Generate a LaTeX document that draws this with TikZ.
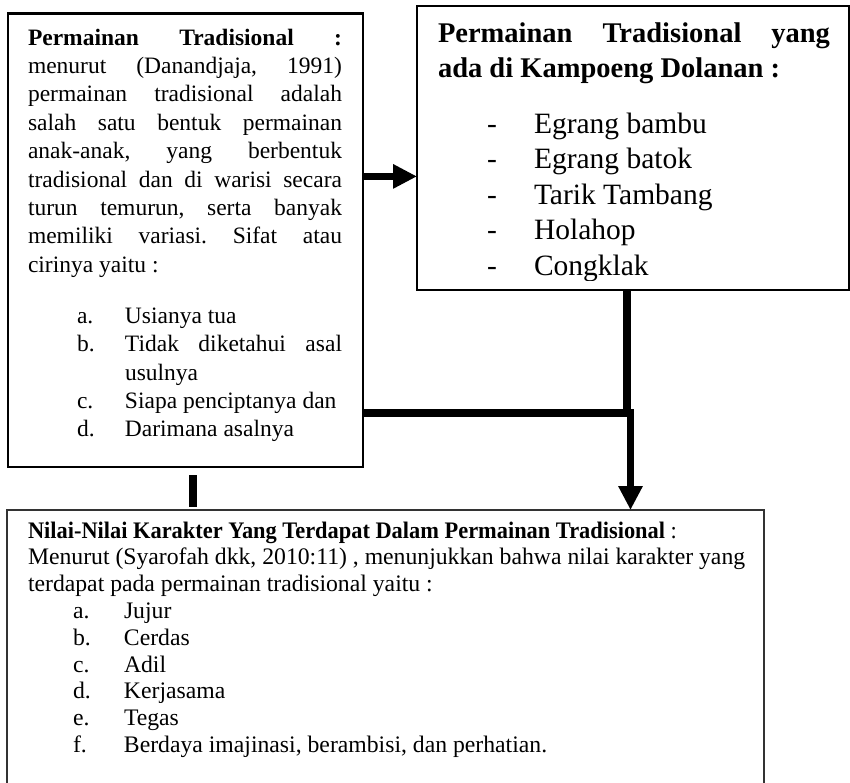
\documentclass[tikz,border=0pt]{standalone}
\usepackage{fontspec}
\usepackage{graphicx}
\setmainfont{Liberation Serif}
\usetikzlibrary{arrows.meta,calc}
\frenchspacing
\newsavebox\jbox
\newcommand\jline[1]{\sbox\jbox{#1}\ifdim\wd\jbox>\linewidth\resizebox{\linewidth}{\ht\jbox}{\usebox\jbox}\else\makebox[\linewidth][s]{#1}\fi}
\begin{document}
\begin{tikzpicture}[x=1pt,y=-1pt,
  boxthick/.style={draw,line width=2.7pt,inner sep=0pt,outer sep=0pt,anchor=north west},
  boxthin/.style={draw,line width=1.3pt,inner sep=0pt,outer sep=0pt,anchor=north west},
  boxopen/.style={draw=black!80,line width=1.5pt,inner sep=0pt,outer sep=0pt,anchor=north west},
  txt/.style={inner sep=0pt,outer sep=0pt,anchor=base west},
  conn/.style={line width=7.5pt,line cap=butt},
  connarrow/.style={conn,-{Triangle[length=24pt,width=23pt]}}
]
\useasboundingbox (0,0) rectangle (850,782);

% boxes
\node[boxthick,minimum width=355pt,minimum height=453.3pt] (b1) at (8,13.7) {};
\node[boxthin,minimum width=432pt,minimum height=284pt] (b2) at (417,6) {};
\node[boxopen,minimum width=757pt,minimum height=320pt] (b3) at (7,510) {};

% box 1 text
\node[txt] (t1) at (28,45) {\parbox[t]{314pt}{\fontsize{23.5}{28.4}\selectfont\frenchspacing
\jline{\textbf{Permainan Tradisional :}}\\
\jline{menurut (Danandjaja, 1991)}\\
\jline{permainan tradisional adalah}\\
\jline{salah satu bentuk permainan}\\
\jline{anak-anak, yang berbentuk}\\
\jline{tradisional dan di warisi secara}\\
\jline{turun temurun, serta banyak}\\
\jline{memiliki variasi. Sifat atau}\\
cirinya yaitu :\\[22.6pt]
\hspace*{49pt}\makebox[48pt][l]{a.}Usianya tua\\
\hspace*{49pt}\makebox[48pt][l]{b.}\makebox[217pt][s]{Tidak diketahui asal}\\
\hspace*{97pt}usulnya\\
\hspace*{49pt}\makebox[48pt][l]{c.}Siapa penciptanya dan\\
\hspace*{49pt}\makebox[48pt][l]{d.}Darimana asalnya}};

% box 2 text
\begin{scope}
\clip (417,0) rectangle (850,280);
\node[txt] (t2) at (438,42) {\parbox[t]{392pt}{\fontsize{28.5}{35}\selectfont\bfseries
\jline{Permainan Tradisional yang}\\
ada di Kampoeng Dolanan :}};
\node[txt] (t2l) at (487,133) {\parbox[t]{340pt}{\fontsize{29.5}{35.5}\selectfont
\makebox[47pt][l]{-}Egrang bambu\\
\makebox[47pt][l]{-}Egrang batok\\
\makebox[47pt][l]{-}Tarik Tambang\\
\makebox[47pt][l]{-}Holahop\\
\makebox[47pt][l]{-}Congklak}};
\end{scope}

% box 3 text
\node[txt] (t3) at (28,538) {\parbox[t]{730pt}{\fontsize{23.7}{26.8}\selectfont\frenchspacing
\scalebox{0.945}[1]{\textbf{Nilai-Nilai Karakter Yang Terdapat Dalam Permainan Tradisional} :}\\
Menurut (Syarofah dkk, 2010:11) , menunjukkan bahwa nilai karakter yang\\
terdapat pada permainan tradisional yaitu :\\
\hspace*{45pt}\makebox[51pt][l]{a.}Jujur\\
\hspace*{45pt}\makebox[51pt][l]{b.}Cerdas\\
\hspace*{45pt}\makebox[51pt][l]{c.}Adil\\
\hspace*{45pt}\makebox[51pt][l]{d.}Kerjasama\\
\hspace*{45pt}\makebox[51pt][l]{e.}Tegas\\
\hspace*{45pt}\makebox[51pt][l]{f.}Berdaya imajinasi, berambisi, dan perhatian.}};

% connectors
\coordinate (a1) at ($(b2.north west)!0.6!(b2.south west)$);
\draw[connarrow] (b1.east |- a1) -- (a1);

\coordinate (j1) at (627,413);
\coordinate (j2) at (630.5,413);
\draw[conn] (b2.south -| j1) -- ([yshift=-3.7pt]j1);
\draw[conn] (b1.east |- j2) -- ([xshift=3.75pt]j2);
\draw[connarrow] ([yshift=3.7pt]j2) -- (b3.north -| j2);

\coordinate (s1) at (193,475);
\coordinate (s2) at (193,507);
\draw[line width=8pt] (s1) -- (s2);
\end{tikzpicture}
\end{document}
